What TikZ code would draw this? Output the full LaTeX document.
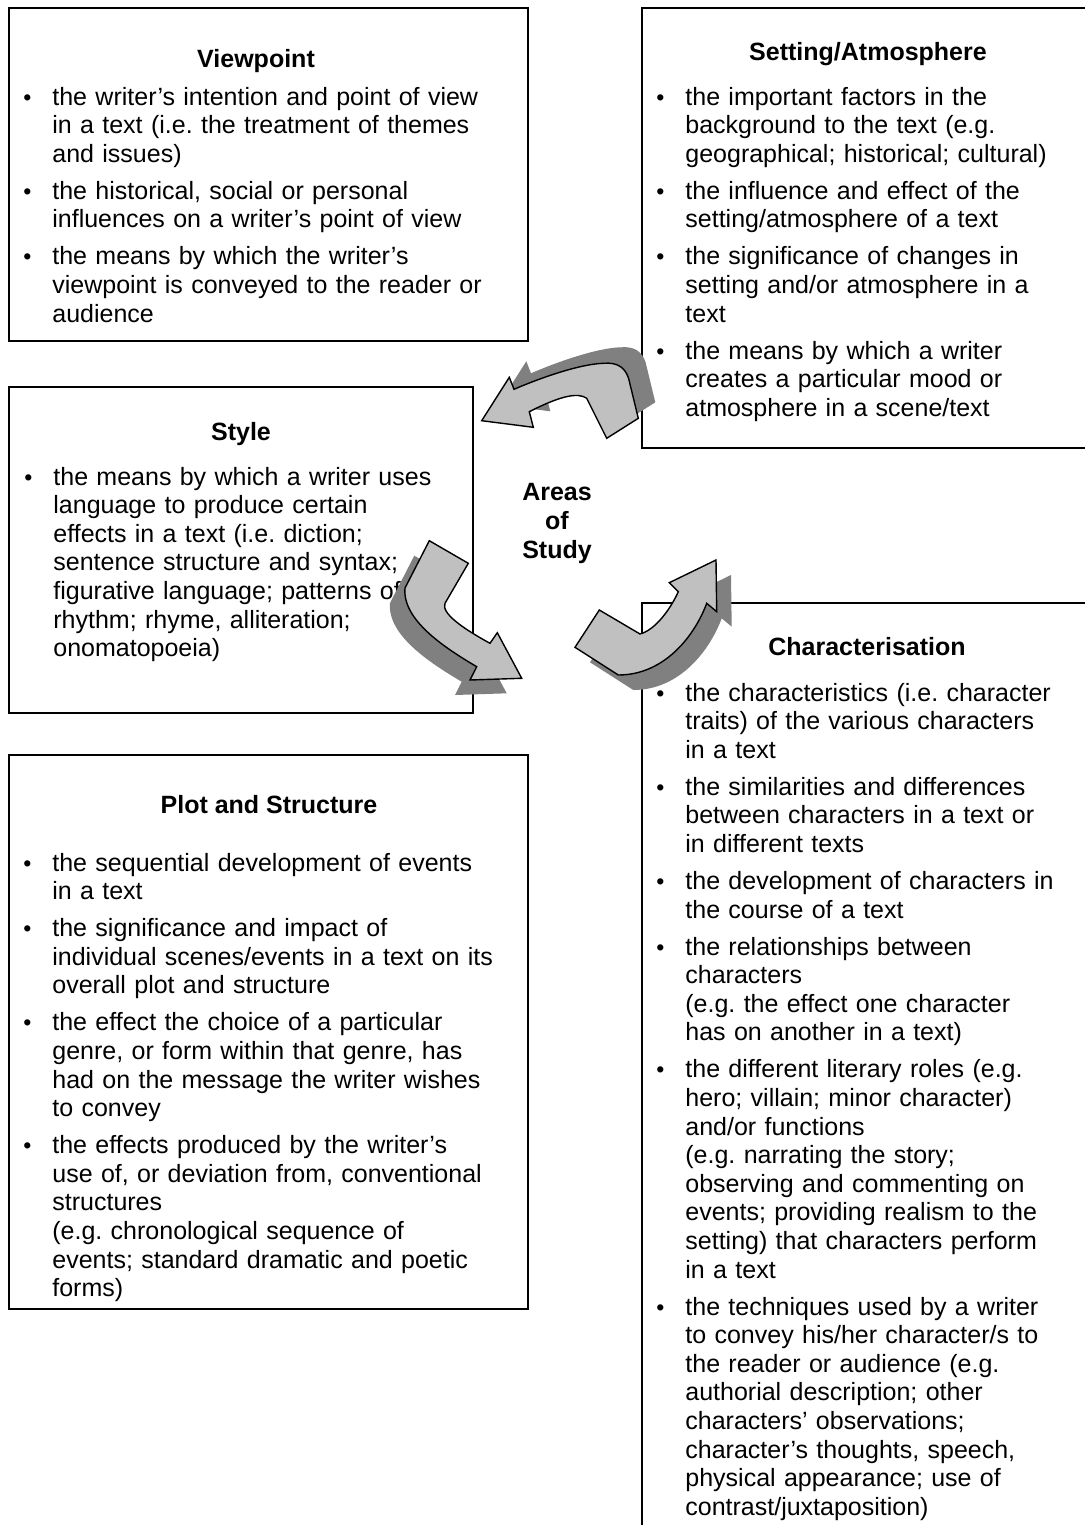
\documentclass[tikz,border=0pt]{standalone}
\usepackage{fontspec}
\setmainfont{Liberation Sans}
\frenchspacing
\definecolor{arrowfill}{HTML}{C0C0C0}
\definecolor{shadowfill}{HTML}{808080}
\newcommand\bmark{\llap{\makebox[25pt][c]{\fontsize{11.5pt}{11.5pt}\selectfont •}}}
\newcommand\bfirst[1]{\noindent\bmark#1}
\newcommand\bitem[1]{\par\vspace{4.2pt}\noindent\bmark#1}
\tikzset{
  boxline/.style={line width=1pt, draw=black},
  titletext/.style={anchor=base, inner sep=0pt, font=\fontsize{12.5pt}{14.3pt}\selectfont\bfseries},
  listtext/.style={anchor=base west, inner sep=0pt, align=left, font=\fontsize{12.5pt}{14.3pt}\selectfont\frenchspacing},
  arrowbody/.style={fill=arrowfill, draw=black, line width=0.7pt, line join=miter},
  arrowshadow/.style={fill=shadowfill}
}
\newcommand\arrowOnePath{(481.7,420.7) -- (509.3,377.3) -- (514,389.3)
  .. controls (540,378) and (580,364) .. (603.3,363.3)
  .. controls (618,362) and (625,368) .. (628.5,378)
  -- (638.3,418.3) -- (606.7,438.3) -- (586.7,398.3)
  .. controls (578,392) and (560,396) .. (529.3,411.7)
  -- (533.3,427.3) -- cycle}
\newcommand\arrowTwoPath{(429.3,540.7) -- (468.3,563.3) -- (445,603.3)
  .. controls (441,613) and (462,628) .. (490,643.3)
  -- (497.3,632.7) -- (521.7,678.3) -- (470,680) -- (476.7,666.7)
  .. controls (445,648) and (402,620) .. (405,588) -- cycle}
\newcommand\arrowThreePath{(575,647.3) -- (599.3,610) -- (640,634)
  .. controls (655,630) and (670,610) .. (678.3,591.7)
  -- (669.3,582.7) -- (716,560) -- (716.7,611.7) -- (706.7,603.3)
  .. controls (695,635) and (665,675) .. (618.3,675) -- cycle}
\begin{document}
\begin{tikzpicture}[x=0.5pt,y=-0.5pt]
\useasboundingbox[fill=white] (0,0) rectangle (1085,1525);

% boxes
\draw[boxline] (9,8) rectangle (528,341);
\draw[boxline] (1085,8) -- (642,8) -- (642,448) -- (1085,448);
\draw[boxline] (9,387) rectangle (473,713);
\draw[boxline] (9,755) rectangle (528,1309);
\draw[boxline] (1085,603) -- (642,603) -- (642,1525);

% Viewpoint
\node[titletext] (vpTitle) at (256,68) {Viewpoint};
\node[listtext, text width=230pt] (vpList) at (52,105) {%
\bfirst{the writer’s intention and point of view\\in a text (i.e. the treatment of themes\\and issues)}%
\bitem{the historical, social or personal\\influences on a writer’s point of view}%
\bitem{the means by which the writer’s\\viewpoint is conveyed to the reader or\\audience}};

% Setting/Atmosphere
\node[titletext] (setTitle) at (868,61) {Setting/Atmosphere};
\node[listtext, text width=190pt] (setList) at (685,105) {%
\bfirst{the important factors in the\\background to the text (e.g.\\geographical; historical; cultural)}%
\bitem{the influence and effect of the\\setting/atmosphere of a text}%
\bitem{the significance of changes in\\setting and/or atmosphere in a\\text}%
\bitem{the means by which a writer\\creates a particular mood or\\atmosphere in a scene/text}};

% Style
\node[titletext] (styTitle) at (241,440) {Style};
\node[listtext, text width=200pt] (styList) at (53,485) {%
\bfirst{the means by which a writer uses\\language to produce certain\\effects in a text (i.e. diction;\\sentence structure and syntax;\\figurative language; patterns of\\rhythm; rhyme, alliteration;\\onomatopoeia)}};

% Areas of Study
\node[titletext, align=center] (areas) at (557,558) {Areas\\of\\Study};

% Plot and Structure
\node[titletext] (plotTitle) at (269,813) {Plot and Structure};
\node[listtext, text width=230pt] (plotList) at (52,871) {%
\bfirst{the sequential development of events\\in a text}%
\bitem{the significance and impact of\\individual scenes/events in a text on its\\overall plot and structure}%
\bitem{the effect the choice of a particular\\genre, or form within that genre, has\\had on the message the writer wishes\\to convey}%
\bitem{the effects produced by the writer’s\\use of, or deviation from, conventional\\structures\\(e.g. chronological sequence of\\events; standard dramatic and poetic\\forms)}};

% Characterisation
\node[titletext] (charTitle) at (867,655) {Characterisation};
\node[listtext, text width=190pt] (charList) at (685,701) {%
\bfirst{the characteristics (i.e. character\\traits) of the various characters\\in a text}%
\bitem{the similarities and differences\\between characters in a text or\\in different texts}%
\bitem{the development of characters in\\the course of a text}%
\bitem{the relationships between\\characters\\(e.g. the effect one character\\has on another in a text)}%
\bitem{the different literary roles (e.g.\\hero; villain; minor character)\\and/or functions\\(e.g. narrating the story;\\observing and commenting on\\events; providing realism to the\\setting) that characters perform\\in a text}%
\bitem{the techniques used by a writer\\to convey his/her character/s to\\the reader or audience (e.g.\\authorial description; other\\characters’ observations;\\character’s thoughts, speech,\\physical appearance; use of\\contrast/juxtaposition)}};

% curved block arrows with shadows
\fill[arrowshadow, shift={(17,-16)}] \arrowOnePath;
\filldraw[arrowbody] \arrowOnePath;
\fill[arrowshadow, shift={(-15,15)}] \arrowTwoPath;
\filldraw[arrowbody] \arrowTwoPath;
\fill[arrowshadow, shift={(15,15)}] \arrowThreePath;
\filldraw[arrowbody] \arrowThreePath;
\end{tikzpicture}
\end{document}
